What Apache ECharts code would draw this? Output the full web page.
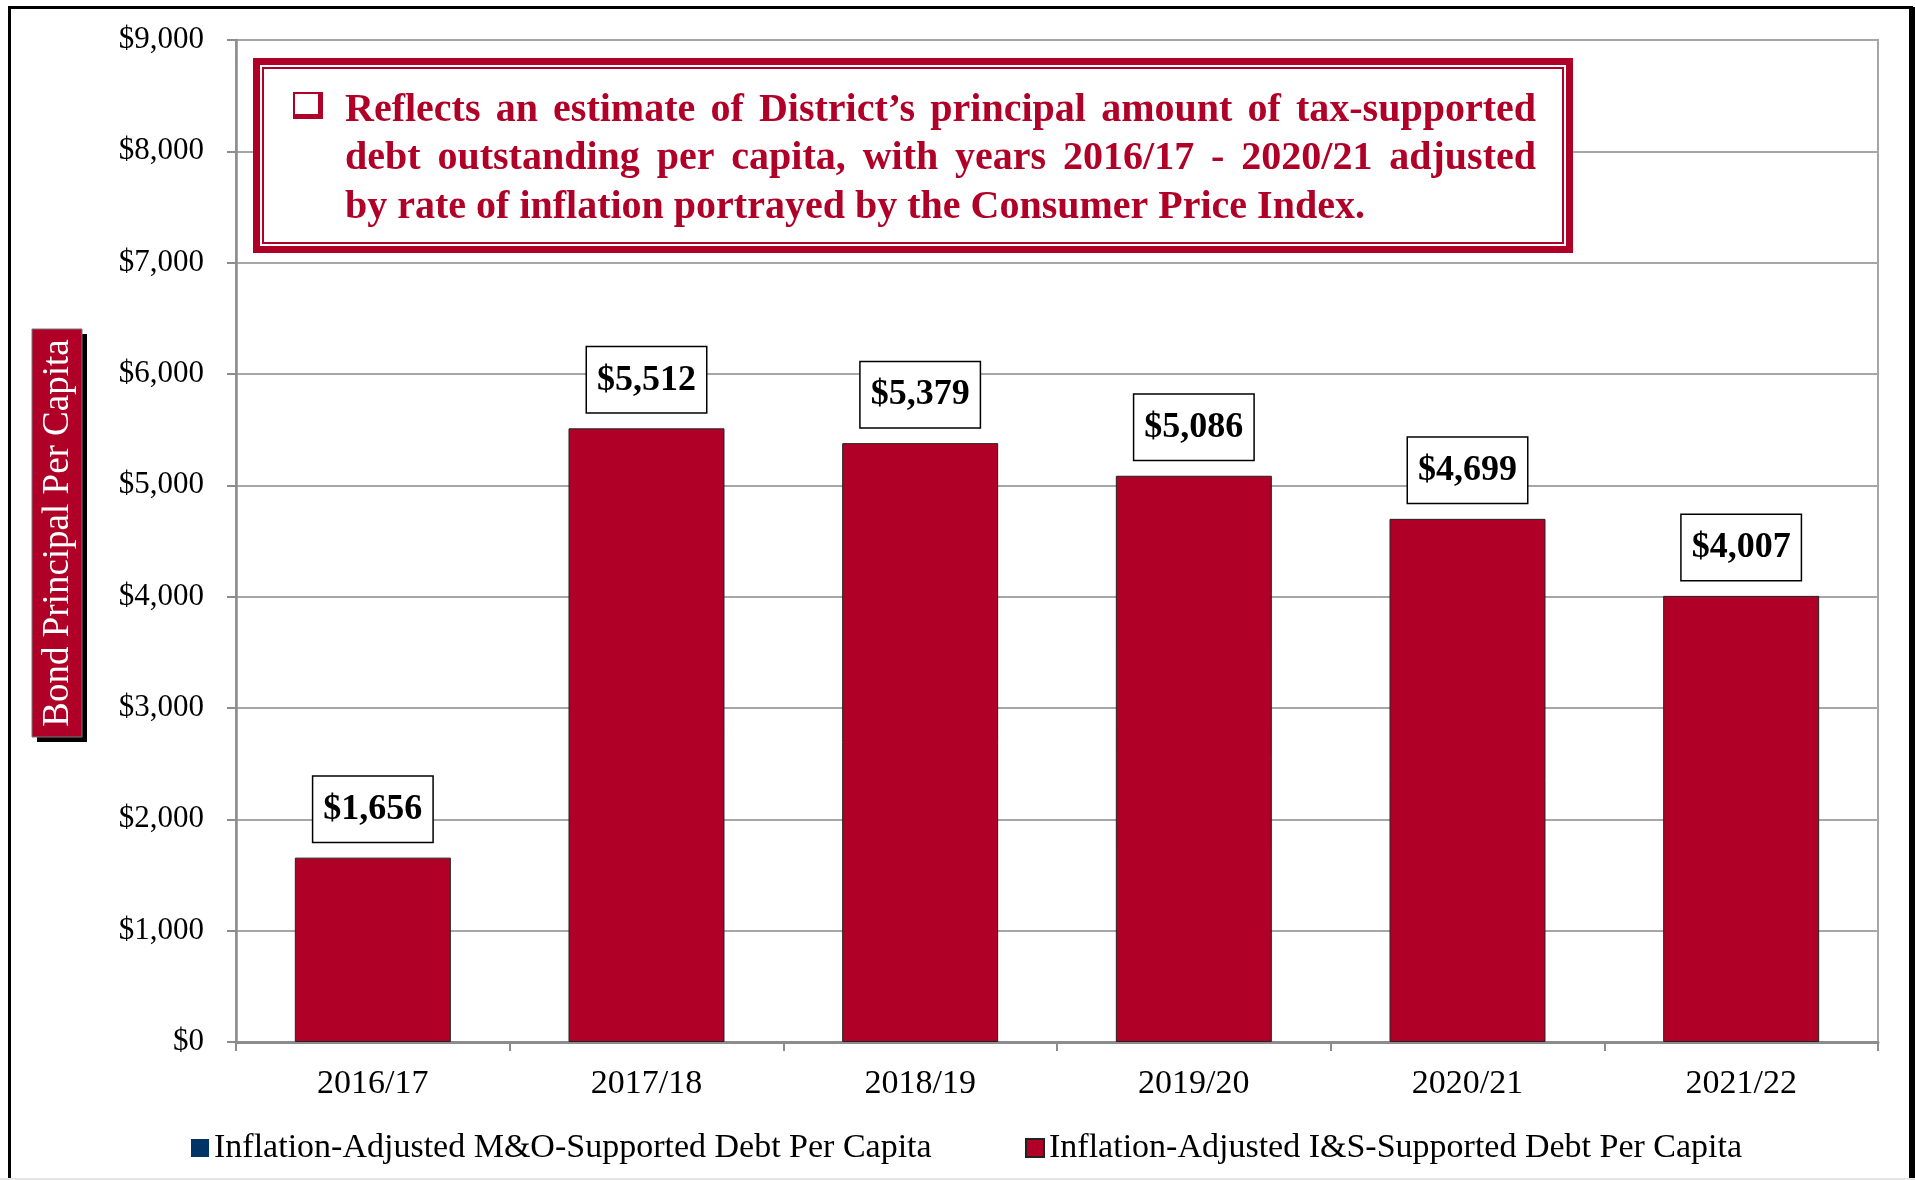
<!DOCTYPE html>
<html>
<head>
<meta charset="utf-8">
<script src="https://cdn.jsdelivr.net/npm/echarts@6/dist/echarts.min.js"></script>
<style>
  html, body { margin: 0; padding: 0; background: #fff; }
  #chart { width: 1915px; height: 1180px; }
</style>
</head>
<body>
<div id="chart"></div>
<script>
const categories = ['2016/17', '2017/18', '2018/19', '2019/20', '2020/21', '2021/22'];
const isDebt = [1656, 5512, 5379, 5086, 4699, 4007];
const moDebt = [0, 0, 0, 0, 0, 0];
const seriesNames = ['Inflation-Adjusted M&O-Supported Debt Per Capita', 'Inflation-Adjusted I&S-Supported Debt Per Capita'];
const titleLines = [
  'Reflects an estimate of District\u2019s principal amount of tax-supported',
  'debt outstanding per capita, with years 2016/17 - 2020/21 adjusted',
  'by rate of inflation portrayed by the Consumer Price Index.'
];
const yTitle = 'Bond Principal Per Capita';

const RED = '#b00028';
const NAVY = '#003366';
const SERIF = '"Liberation Serif", "Times New Roman", serif';
const TITLE_FONT = 'bold 40px ' + SERIF;

// lay out the note text justified like the original slide
const ctx = document.createElement('canvas').getContext('2d');
ctx.font = TITLE_FONT;
function noteLine(text, x0, x1, y, justify) {
  if (!justify) {
    return [{ type: 'text', x: x0, y: y, z: 60, style: { text: text, font: TITLE_FONT, fill: RED, verticalAlign: 'middle' } }];
  }
  const words = text.split(' ');
  const widths = words.map(w => ctx.measureText(w).width);
  const total = widths.reduce((a, b) => a + b, 0);
  const gap = (x1 - x0 - total) / (words.length - 1);
  let x = x0;
  return words.map((w, i) => {
    const el = { type: 'text', x: x, y: y, z: 60, style: { text: w, font: TITLE_FONT, fill: RED, verticalAlign: 'middle' } };
    x += widths[i] + gap;
    return el;
  });
}

const noteTexts = []
  .concat(noteLine(titleLines[0], 345, 1536, 111, true))
  .concat(noteLine(titleLines[1], 345, 1536, 159, true))
  .concat(noteLine(titleLines[2], 345, 1536, 208, false));

const myChart = echarts.init(document.getElementById('chart'));
myChart.setOption({
  animation: false,
  backgroundColor: '#fff',
  grid: {
    left: 236, right: 37, top: 40, bottom: 138,
    show: true, borderColor: '#a6a6a6', borderWidth: 2
  },
  legend: [
    {
      data: [seriesNames[0]], left: 186, top: 1126, icon: 'rect',
      itemWidth: 18, itemHeight: 18,
      textStyle: { fontFamily: SERIF, fontSize: 34, color: '#000' }
    },
    {
      data: [seriesNames[1]], left: 1020, top: 1126, icon: 'rect',
      itemWidth: 18, itemHeight: 18,
      textStyle: { fontFamily: SERIF, fontSize: 34, color: '#000' }
    }
  ],
  xAxis: {
    type: 'category',
    data: categories,
    axisLine: { lineStyle: { color: '#8c8c8c', width: 3 } },
    axisTick: { show: true, length: 9, lineStyle: { color: '#8c8c8c', width: 2 } },
    axisLabel: { fontFamily: SERIF, fontSize: 34, color: '#000', margin: 25 }
  },
  yAxis: {
    type: 'value',
    min: 0, max: 9000, interval: 1000,
    axisLine: { show: true, lineStyle: { color: '#8c8c8c', width: 2.5 } },
    axisTick: { show: true, length: 9, lineStyle: { color: '#8c8c8c', width: 2 } },
    splitLine: { lineStyle: { color: '#a6a6a6', width: 2 } },
    axisLabel: {
      fontFamily: SERIF, fontSize: 31, color: '#000', margin: 32,
      formatter: v => '$' + v.toLocaleString('en-US')
    }
  },
  series: [
    {
      name: seriesNames[0],
      type: 'bar',
      stack: 'debt',
      barWidth: '57%',
      data: moDebt,
      itemStyle: { color: NAVY }
    },
    {
      name: seriesNames[1],
      type: 'bar',
      stack: 'debt',
      barWidth: '57%',
      data: isDebt,
      itemStyle: { color: RED, borderColor: '#222', borderWidth: 1 },
      label: {
        show: true,
        position: 'top',
        distance: 16,
        formatter: p => '$' + p.value.toLocaleString('en-US'),
        fontFamily: SERIF,
        fontWeight: 'bold',
        fontSize: 36,
        lineHeight: 38,
        color: '#000',
        backgroundColor: '#fff',
        borderColor: '#000',
        borderWidth: 1.5,
        padding: [14, 10, 13, 10]
      }
    }
  ],
  graphic: [
    // outer frame of the slide
    { type: 'rect', shape: { x: 9.5, y: 7.5, width: 1902, height: 1200 }, style: { fill: null, stroke: '#000', lineWidth: 3 }, z: 100 },
    { type: 'rect', shape: { x: 1909, y: 7, width: 6, height: 1180 }, style: { fill: '#000' }, z: 100 },
    { type: 'rect', shape: { x: 0, y: 1178, width: 1915, height: 2 }, style: { fill: '#e6e6e6' }, z: 100 },
    // note box
    { type: 'rect', shape: { x: 253, y: 58, width: 1320, height: 195 }, style: { fill: RED }, z: 50 },
    { type: 'rect', shape: { x: 260, y: 65, width: 1306, height: 181 }, style: { fill: '#fff' }, z: 51 },
    { type: 'rect', shape: { x: 263, y: 68, width: 1300, height: 175 }, style: { fill: null, stroke: RED, lineWidth: 2 }, z: 52 },
    { type: 'rect', shape: { x: 293, y: 92, width: 30, height: 27 }, style: { fill: RED }, z: 53 },
    { type: 'rect', shape: { x: 295, y: 94, width: 23, height: 20 }, style: { fill: '#fff' }, z: 54 },
    { type: 'group', children: noteTexts },
    // y axis title box
    { type: 'rect', shape: { x: 37, y: 334, width: 50, height: 408 }, style: { fill: '#000' }, z: 50 },
    { type: 'rect', shape: { x: 32, y: 329, width: 50, height: 408 }, style: { fill: RED, stroke: '#777', lineWidth: 1 }, z: 51 },
    {
      type: 'text', x: 58, y: 533, rotation: Math.PI / 2, z: 52,
      style: { text: yTitle, font: '37px ' + SERIF, fill: '#fff', align: 'center', verticalAlign: 'middle' }
    }
  ]
});
</script>
</body>
</html>
